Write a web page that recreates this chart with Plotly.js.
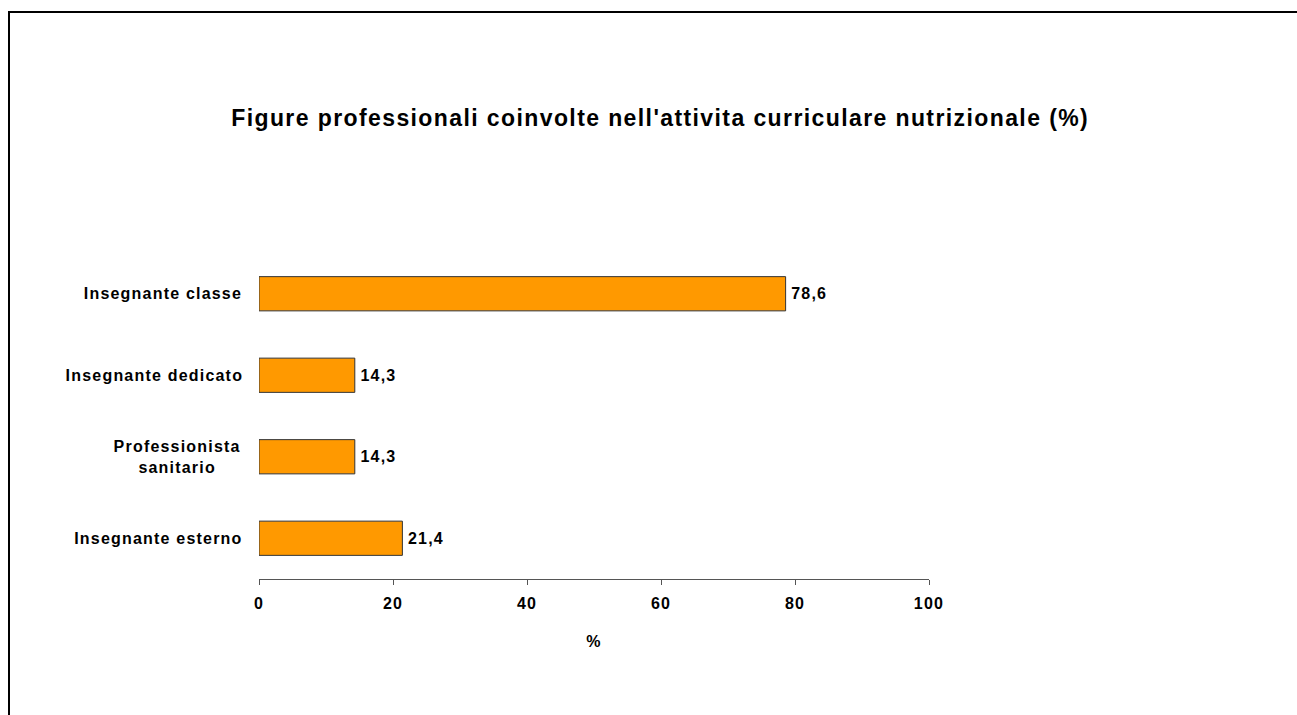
<!DOCTYPE html>
<html>
<head>
<meta charset="utf-8">
<script src="https://cdn.plot.ly/plotly-3.0.1.min.js"></script>
<style>
html,body{margin:0;padding:0;background:#fff;}
#chart{width:1297px;height:715px;}
#chart .gtitle{letter-spacing:1.4px;}
#chart .annotation-text, #chart .xtick text, #chart .bartext, #chart .xtitle{letter-spacing:1.2px;}
#frame{position:absolute;left:8px;top:11px;width:1400px;height:800px;border:2px solid #000;pointer-events:none;}
</style>
</head>
<body>
<div id="chart"></div>
<div id="frame"></div>
<script>
const categories = ["Insegnante esterno", "Professionista sanitario", "Insegnante dedicato", "Insegnante classe"];
const catLabels = ["Insegnante esterno", "Professionista<br>sanitario", "Insegnante dedicato", "Insegnante classe"];
const values = [21.4, 14.3, 14.3, 78.6];
const valueLabels = ["21,4", "14,3", "14,3", "78,6"];
const xTicks = [0, 20, 40, 60, 80, 100];
const titleText = "Figure professionali coinvolte nell'attivita curriculare nutrizionale (%)";
const font = "Arial, 'Liberation Sans', sans-serif";

const trace = {
  type: "bar",
  orientation: "h",
  y: categories,
  x: values,
  text: valueLabels.map(v => "\u00A0" + v),
  texttemplate: "%{text}",
  textposition: "outside",
  cliponaxis: false,
  textfont: {family: font, size: 16, color: "#000", weight: "bold"},
  marker: {color: "#FF9900", line: {color: "#333333", width: 1}},
  width: 0.42,
  hoverinfo: "none"
};

const annotations = categories.map((c, i) => ({
  xref: "paper", x: 0, yref: "y", y: c,
  xanchor: "right", yanchor: "middle", xshift: -25,
  align: "center", showarrow: false,
  text: "<b>" + catLabels[i] + "</b>",
  font: {family: font, size: 16, color: "#000"}
}));

const layout = {
  width: 1297, height: 715,
  margin: {l: 259, r: 368, t: 253, b: 136},
  paper_bgcolor: "#fff", plot_bgcolor: "#fff",
  showlegend: false,
  title: {
    text: "<b>" + titleText + "</b>",
    font: {family: font, size: 23, color: "#000"},
    xref: "container", x: 0.509, xanchor: "center",
    yref: "container", y: 1 - 118/715, yanchor: "middle"
  },
  xaxis: {
    range: [0, 100], tickvals: xTicks, ticktext: xTicks.map(String),
    showgrid: false, zeroline: false, showline: true, linecolor: "#555", linewidth: 1,
    ticks: "outside", ticklen: 5, tickcolor: "#555", tickwidth: 1,
    ticklabelstandoff: 5,
    tickfont: {family: font, size: 16, color: "#000", weight: "bold"},
    title: {text: "<b>%</b>", font: {family: font, size: 16, color: "#000"}, standoff: 24},
    fixedrange: true
  },
  yaxis: {
    type: "category", categoryorder: "array", categoryarray: categories,
    showticklabels: false, showgrid: false, zeroline: false, showline: false, ticks: "",
    fixedrange: true
  },
  annotations: annotations,
  bargap: 0.58
};

Plotly.newPlot("chart", [trace], layout, {displayModeBar: false, staticPlot: true});
</script>
</body>
</html>
